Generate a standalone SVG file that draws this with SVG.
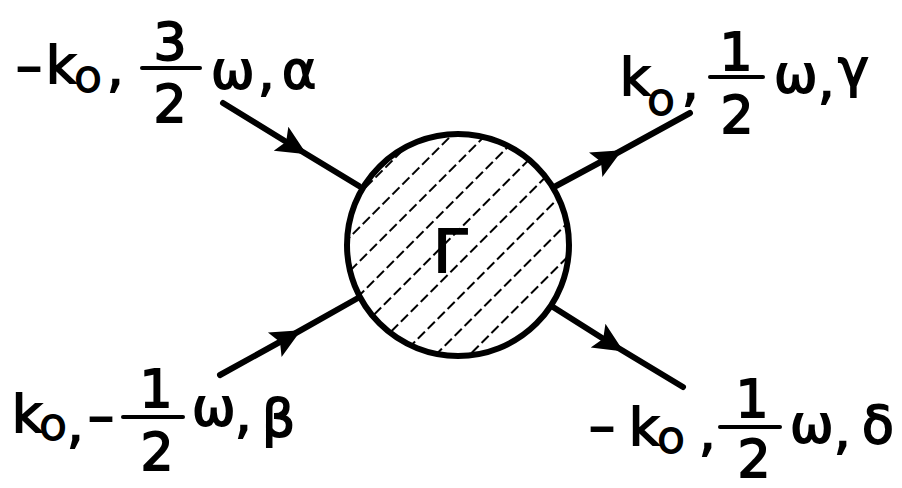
<svg xmlns="http://www.w3.org/2000/svg" width="902" height="488" viewBox="0 0 902 488">
<style>
.t{font-family:"DejaVu Sans",sans-serif;font-size:52px;fill:#000;stroke:#000;stroke-width:1.8}
.s{font-size:33px}
.c{text-anchor:middle}
.bar{stroke:#000;stroke-width:4;stroke-linecap:round}
.ln{fill:none;stroke:#000;stroke-width:6;stroke-linecap:round;stroke-linejoin:round}
</style>
<defs>
<marker id="arr" markerUnits="userSpaceOnUse" markerWidth="60" markerHeight="60" viewBox="-30 -30 60 60" refX="0" refY="0" orient="auto">
<path d="M16,0 L-14,-14 L-8,0 L-14,14 Z" fill="#000"/>
</marker>
<pattern id="hatch" patternUnits="userSpaceOnUse" width="14" height="24" patternTransform="rotate(-45)">
<line x1="0" y1="7" x2="24" y2="7" stroke="#000" stroke-width="2.2" stroke-dasharray="10 5 4 4"/>
</pattern>
<clipPath id="cc"><circle cx="458" cy="245" r="110"/></clipPath>
</defs>

<g id="connectors">
<polyline class="ln" points="223,103 293,146 359,186" marker-mid="url(#arr)"/>
<polyline class="ln" points="556,186 608,158 690,113" marker-mid="url(#arr)"/>
<polyline class="ln" points="220,375 287,338 358,298" marker-mid="url(#arr)"/>
<polyline class="ln" points="553,307 610,343 683,387" marker-mid="url(#arr)"/>
</g>

<g id="vertex">
<rect x="340" y="130" width="236" height="236" fill="url(#hatch)" clip-path="url(#cc)"/>
<circle cx="458" cy="245" r="111" fill="none" stroke="#000" stroke-width="6"/>
<text x="434" y="272" style="font-family:'Liberation Sans',sans-serif;font-size:63px;stroke:#000;stroke-width:2">Γ</text>
</g>

<g id="label-alpha">
<text class="t" x="16" y="83">–</text>
<text class="t" x="46" y="83">k</text>
<text class="t s" x="75" y="92">O</text>
<text class="t" x="107" y="86">,</text>
<text class="t c" x="170" y="60">3</text>
<line class="bar" x1="142" y1="68" x2="200" y2="68"/>
<text class="t c" x="170" y="122">2</text>
<text class="t" x="211" y="88">ω</text>
<text class="t" x="258" y="90">,</text>
<text class="t" x="282" y="88">α</text>
</g>

<g id="label-gamma">
<text class="t" x="620" y="95">k</text>
<text class="t s" x="648" y="115">O</text>
<text class="t" x="682" y="100">,</text>
<text class="t c" x="736" y="70">1</text>
<line class="bar" x1="710" y1="77" x2="763" y2="77"/>
<text class="t c" x="737" y="133">2</text>
<text class="t" x="774" y="92">ω</text>
<text class="t" x="818" y="98">,</text>
<text class="t" x="838" y="86">γ</text>
</g>

<g id="label-beta">
<text class="t" x="12" y="432">k</text>
<text class="t s" x="40" y="440">O</text>
<text class="t" x="67" y="442">,</text>
<text class="t" x="88" y="433">–</text>
<text class="t c" x="156" y="407">1</text>
<line class="bar" x1="123" y1="417" x2="183" y2="417"/>
<text class="t c" x="157" y="470">2</text>
<text class="t" x="192" y="425">ω</text>
<text class="t" x="235" y="432">,</text>
<text class="t" x="262" y="436">β</text>
</g>

<g id="label-delta">
<text class="t" x="589" y="443">–</text>
<text class="t" x="629" y="445">k</text>
<text class="t s" x="658" y="453">O</text>
<text class="t" x="699" y="450">,</text>
<text class="t c" x="752" y="417">1</text>
<line class="bar" x1="720" y1="427" x2="780" y2="427"/>
<text class="t c" x="754" y="477">2</text>
<text class="t" x="790" y="442">ω</text>
<text class="t" x="834" y="448">,</text>
<text class="t" x="862" y="443">δ</text>
</g>
</svg>
